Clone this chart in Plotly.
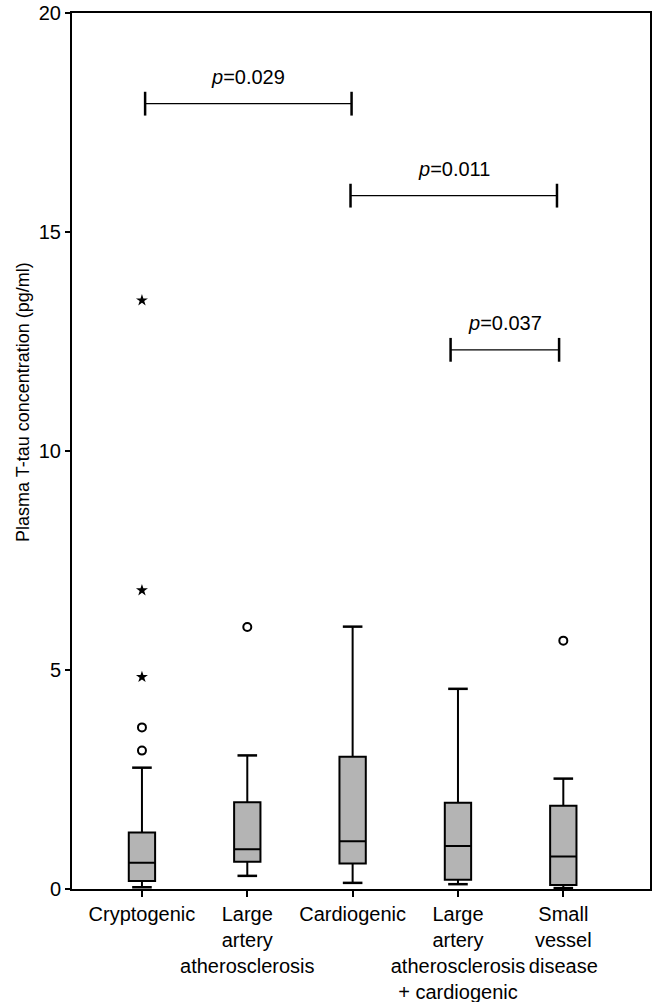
import plotly.graph_objects as go

categories = ["Cryptogenic", "Large<br>artery<br>atherosclerosis", "Cardiogenic",
              "Large<br>artery<br>atherosclerosis<br>+ cardiogenic", "Small<br>vessel<br>disease"]
positions = [0, 1, 2, 3, 4]
q1 = [0.18, 0.62, 0.58, 0.21, 0.09]
median = [0.60, 0.91, 1.09, 0.98, 0.74]
q3 = [1.29, 1.98, 3.02, 1.97, 1.90]
lower_whisker = [0.04, 0.30, 0.14, 0.11, 0.02]
upper_whisker = [2.77, 3.05, 5.99, 4.57, 2.52]

circle_x = [0, 0, 1, 4]
circle_y = [3.16, 3.69, 5.98, 5.67]
star_x = [0, 0, 0]
star_y = [4.84, 6.82, 13.44]

# significance brackets: start, end (category axis units), height, label
bracket_start = [0.03, 1.98, 2.93]
bracket_end = [1.99, 3.94, 3.96]
bracket_y = [17.93, 15.83, 12.31]
bracket_label = ["<i>p</i>=0.029", "<i>p</i>=0.011", "<i>p</i>=0.037"]

y_title = "Plasma T-tau concentration (pg/ml)"

FONT = "Liberation Sans, Arial, sans-serif"

fig = go.Figure()

fig.add_trace(go.Box(
    x=positions, q1=q1, median=median, q3=q3,
    lowerfence=lower_whisker, upperfence=upper_whisker,
    boxpoints=False, width=0.25,
    fillcolor="#b4b4b4", line=dict(color="black", width=2),
    whiskerwidth=0, showlegend=False, hoverinfo="skip"))

# whisker caps
fig.add_trace(go.Scatter(
    x=positions + positions, y=lower_whisker + upper_whisker, mode="markers",
    marker=dict(symbol="line-ew", size=14, line=dict(color="black", width=2.5)),
    showlegend=False, hoverinfo="skip"))

fig.add_trace(go.Scatter(
    x=circle_x, y=circle_y, mode="markers",
    marker=dict(symbol="circle-open", size=8, color="black", line=dict(color="black", width=2)),
    showlegend=False))
fig.add_trace(go.Scatter(
    x=star_x, y=star_y, mode="markers",
    marker=dict(symbol="star", size=9, color="black", line=dict(width=0)),
    showlegend=False))

for a, b, yv, label in zip(bracket_start, bracket_end, bracket_y, bracket_label):
    fig.add_trace(go.Scatter(x=[a, b], y=[yv, yv], mode="lines",
                             line=dict(color="black", width=1.2),
                             showlegend=False, hoverinfo="skip"))
    fig.add_trace(go.Scatter(x=[a, b], y=[yv, yv], mode="markers",
                             marker=dict(symbol="line-ns", size=17,
                                         line=dict(color="black", width=2.5)),
                             showlegend=False, hoverinfo="skip"))
    fig.add_annotation(x=(a + b) / 2, y=yv, text=label, showarrow=False,
                       yshift=14, yanchor="bottom", xanchor="center",
                       font=dict(family=FONT, size=20, color="black"))

# y-axis title (placed as annotation: it sits above the axis centre in the reference)
fig.add_annotation(xref="paper", yref="paper", x=0, y=0.556, xshift=-49,
                   text=y_title, textangle=-90, showarrow=False,
                   xanchor="center", yanchor="middle",
                   font=dict(family=FONT, size=18, color="black"))

fig.update_layout(
    width=657, height=1002,
    margin=dict(l=72, r=7, t=13, b=113),
    plot_bgcolor="white", paper_bgcolor="white",
    font=dict(family=FONT, size=20, color="black"),
    showlegend=False,
)
fig.update_xaxes(
    range=[-0.664, 4.823], tickvals=positions, ticktext=categories, tickangle=0,
    automargin=False,
    showline=True, linecolor="black", linewidth=2, mirror=True,
    ticks="outside", ticklen=6, tickwidth=2, tickcolor="black",
    showgrid=False, zeroline=False, tickfont=dict(size=20))
fig.update_yaxes(
    range=[0, 20], dtick=5, tick0=0, automargin=False,
    showline=True, linecolor="black", linewidth=2, mirror=True,
    ticks="outside", ticklen=5, tickwidth=2, tickcolor="black",
    showgrid=False, zeroline=False, tickfont=dict(size=20))

# remove the default 8px page margin so the figure sits at the window's top-left corner
fig.write_html("out.html", config={"displayModeBar": False},
               post_script="document.body.style.margin='0';document.body.style.overflow='hidden';")
